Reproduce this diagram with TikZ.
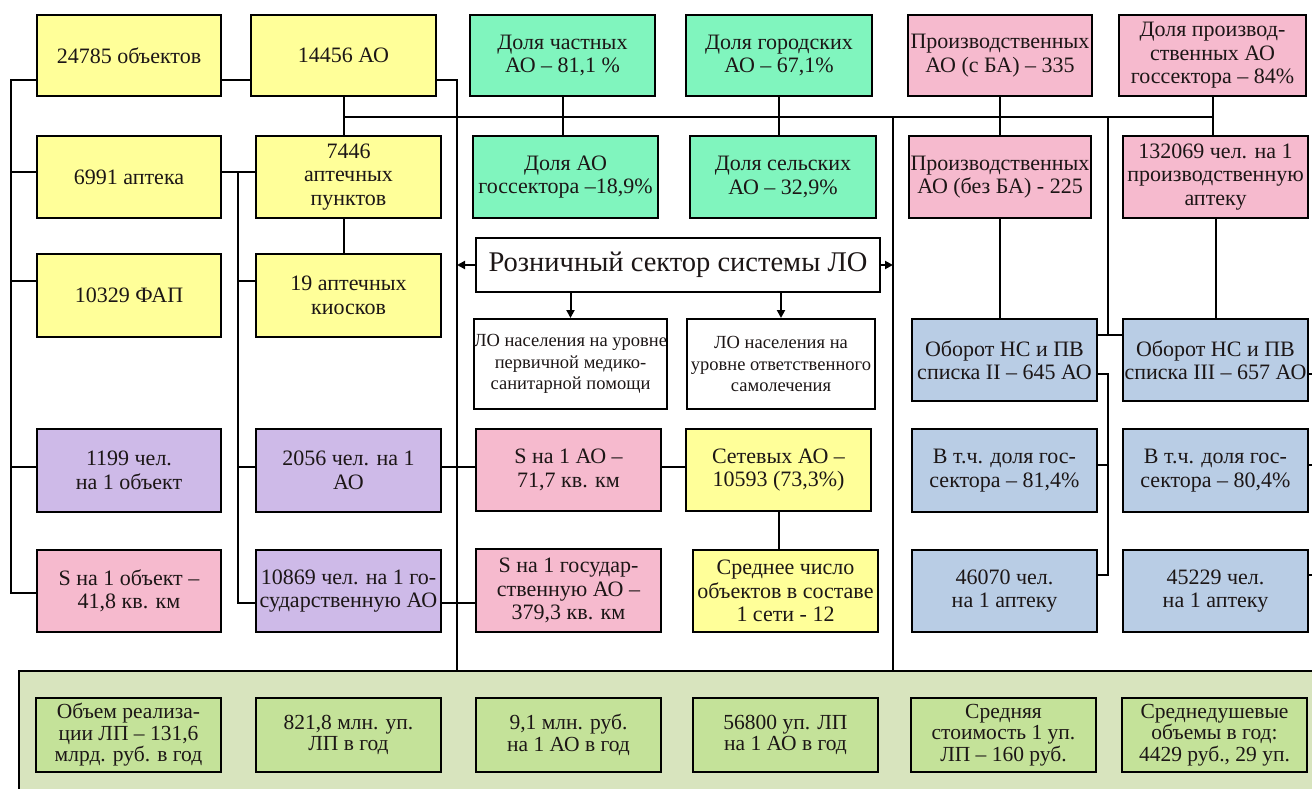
\documentclass[tikz,border=0pt]{standalone}
\usepackage{fontspec}
\setmainfont{Liberation Serif}
\usetikzlibrary{arrows.meta}

\definecolor{cyel}{RGB}{255,255,153}
\definecolor{cgrn}{RGB}{128,245,190}
\definecolor{cpnk}{RGB}{246,186,206}
\definecolor{cvio}{RGB}{206,186,232}
\definecolor{cblu}{RGB}{185,205,229}
\definecolor{cbot}{RGB}{196,226,153}
\definecolor{cpan}{RGB}{216,228,190}
\definecolor{cink}{RGB}{28,22,22}

\tikzset{
  box/.style={draw=black, line width=2.4pt, inner sep=0pt},
  txt/.style={align=center, inner sep=0pt, text=cink, font=\fontsize{22}{23.5}\selectfont},
  big/.style={font=\fontsize{28.5}{30}\selectfont},
  small/.style={font=\fontsize{18.5}{21.5}\selectfont},
  foot/.style={font=\fontsize{21.5}{21.5}\selectfont},
  wire/.style={line width=2pt, draw=black},
  arr/.style={wire, -{Triangle[length=8pt,width=8pt]}},
}

% \bx[text style]{name}{x1}{y1}{x2}{y2}{fill}{text}
\newcommand\bx[8][]{%
  \pgfmathsetmacro\bxw{#5-#3-2.4}\pgfmathsetmacro\bxh{#6-#4-2.4}%
  \pgfmathsetmacro\bxx{(#3+#5)/2}\pgfmathsetmacro\bxy{(#4+#6)/2}%
  \node[box,fill=#7,minimum width=\bxw pt,minimum height=\bxh pt] (#2) at (\bxx,\bxy) {};
  \node[txt,#1] at (#2.center) {#8};}

\begin{document}
\begin{tikzpicture}[x=1pt,y=-1pt]
\useasboundingbox (0,0) rectangle (1312,789);
\fill[white] (0,0) rectangle (1312,789);

% bottom panel
\node[draw=black, line width=2pt, fill=cpan, anchor=north west, inner sep=0pt,
      minimum width=1320pt, minimum height=140pt] (pan) at (18,670) {};

% row 1
\bx{a1}{36}{14}{222}{97}{cyel}{24785 объектов}
\bx{b1}{250}{14}{437}{97}{cyel}{14456 АО}
\bx{g1}{469}{14}{656}{97}{cgrn}{Доля частных\\АО – 81,1 \%}
\bx{g2}{685}{14}{873}{97}{cgrn}{Доля городских\\АО – 67,1\%}
\bx{p1}{907}{14}{1093}{97}{cpnk}{Производственных\\АО (с БА) – 335}
\bx{p2}{1118}{14}{1307}{97}{cpnk}{Доля производ-\\ственных АО\\госсектора – 84\%}
% row 2
\bx{a2}{36}{135}{222}{219}{cyel}{6991 аптека}
\bx{b2}{255}{135}{442}{219}{cyel}{7446\\аптечных\\пунктов}
\bx{g3}{472}{135}{659}{219}{cgrn}{Доля АО\\госсектора –18,9\%}
\bx{g4}{689}{135}{877}{219}{cgrn}{Доля сельских\\АО – 32,9\%}
\bx{p3}{908}{135}{1092}{219}{cpnk}{Производственных\\АО (без БА) - 225}
\bx{p4}{1122}{135}{1309}{219}{cpnk}{132069 чел. на 1\\производственную\\аптеку}
% centre
\bx[big]{R}{475}{237}{881}{293}{white}{Розничный сектор системы ЛО}
% row 3
\bx{a3}{36}{253}{222}{338}{cyel}{10329 ФАП}
\bx{b3}{255}{253}{442}{338}{cyel}{19 аптечных\\киосков}
\bx[small]{w1}{473}{318}{668}{410}{white}{ЛО населения на уровне\\первичной медико-\\санитарной помощи}
\bx[small]{w2}{686}{318}{876}{410}{white}{ЛО населения на\\уровне ответственного\\самолечения}
\bx{u1}{911}{318}{1098}{402}{cblu}{Оборот НС и ПВ\\списка II – 645 АО}
\bx{u2}{1122}{318}{1309}{402}{cblu}{Оборот НС и ПВ\\списка III – 657 АО}
% row 4
\bx{a4}{36}{428}{222}{513}{cvio}{1199 чел.\\на 1 объект}
\bx{b4}{255}{428}{442}{513}{cvio}{2056 чел. на 1\\АО}
\bx{s1}{475}{428}{662}{512}{cpnk}{S на 1 АО –\\71,7 кв. км}
\bx{y1}{685}{428}{872}{512}{cyel}{Сетевых АО –\\10593 (73,3\%)}
\bx{u3}{911}{428}{1098}{513}{cblu}{В т.ч. доля гос-\\сектора – 81,4\%}
\bx{u4}{1122}{428}{1309}{513}{cblu}{В т.ч. доля гос-\\сектора – 80,4\%}
% row 5
\bx{a5}{36}{549}{222}{633}{cpnk}{S на 1 объект –\\41,8 кв. км}
\bx{b5}{255}{549}{442}{633}{cvio}{10869 чел. на 1 го-\\сударственную АО}
\bx{s2}{475}{548}{662}{633}{cpnk}{S на 1 государ-\\ственную АО –\\379,3 кв. км}
\bx{y2}{692}{549}{879}{633}{cyel}{Среднее число\\объектов в составе\\1 сети - 12}
\bx{u5}{911}{549}{1098}{633}{cblu}{46070 чел.\\на 1 аптеку}
\bx{u6}{1122}{549}{1309}{633}{cblu}{45229 чел.\\на 1 аптеку}
% bottom row
\bx[foot]{k1}{35}{697}{222}{773}{cbot}{Объем реализа-\\ции ЛП – 131,6\\млрд. руб. в год}
\bx[foot]{k2}{255}{697}{442}{773}{cbot}{821,8 млн. уп.\\ЛП в год}
\bx[foot]{k3}{475}{697}{662}{773}{cbot}{9,1 млн. руб.\\на 1 АО в год}
\bx[foot]{k4}{692}{697}{879}{773}{cbot}{56800 уп. ЛП\\на 1 АО в год}
\bx[foot]{k5}{910}{697}{1097}{773}{cbot}{Средняя\\стоимость 1 уп.\\ЛП – 160 руб.}
\bx[foot]{k6}{1121}{697}{1308}{773}{cbot}{Среднедушевые\\объемы в год:\\4429 руб., 29 уп.}

% junction points
\coordinate (t1) at (11,80);  \coordinate (t2) at (11,172);
\coordinate (t3) at (11,281); \coordinate (t4) at (11,467);
\coordinate (t5) at (11,593);
\coordinate (q2) at (238,172); \coordinate (q3) at (238,281);
\coordinate (q4) at (238,467); \coordinate (q5) at (238,603);
\coordinate (v1) at (457,80);  \coordinate (v2) at (893,117);
\coordinate (h1) at (0,117);
\coordinate (m1) at (1108,117); \coordinate (m2) at (1108,335);
\coordinate (m3) at (1108,374); \coordinate (m4) at (1108,465);
\coordinate (m5) at (1108,575);
\coordinate (e3) at (1312,374); \coordinate (e4) at (1312,465);
\coordinate (e5) at (1312,575);

% left trunk
\draw[wire] (a1.west |- t1) -- (t1) -- (t5) -- (a5.west |- t5);
\draw[wire] (t2) -- (a2.west |- t2);
\draw[wire] (t3) -- (a3.west |- t3);
\draw[wire] (t4) -- (a4.west |- t4);
\draw[wire] (a1.east |- t1) -- (b1.west |- t1);

% second trunk
\draw[wire] (a2.east |- q2) -- (b2.west |- q2);
\draw[wire] (q2) -- (q5) -- (b5.west |- q5);
\draw[wire] (q3) -- (b3.west |- q3);
\draw[wire] (q4) -- (b4.west |- q4);
\draw[wire] (b4.east |- q4) -- (s1.west |- q4);
\draw[wire] (s1.east |- q4) -- (y1.west |- q4);
\draw[wire] (b5.east |- q5) -- (s2.west |- q5);
\draw[wire] (y1.south) -- (y1.south |- y2.north);

% column links
\draw[wire] (b1.south) -- (b1.south |- b2.north);
\draw[wire] (b1.south |- b2.south) -- (b1.south |- b3.north);
\draw[wire] (b1.south |- h1) -- (p2.south |- h1);
\draw[wire] (g1.south) -- (g1.south |- g3.north);
\draw[wire] (g2.south) -- (g2.south |- g4.north);
\draw[wire] (p1.south) -- (p1.south |- p3.north);
\draw[wire] (p2.south) -- (p2.south |- p4.north);
\draw[wire] (p3.south) -- (p3.south |- u1.north);
\draw[wire] (p4.south) -- (p4.south |- u2.north);

% long verticals to the panel
\draw[wire] (b1.east |- v1) -- (v1) -- (v1 |- pan.north);
\draw[wire] (v2) -- (v2 |- pan.north);

% right block
\draw[wire] (m1) -- (m2);
\draw[wire] (u1.east |- m2) -- (u2.west |- m2);
\draw[wire] (u1.east |- m3) -- (m3) -- (m5) -- (u5.east |- m5);
\draw[wire] (u3.east |- m4) -- (m4);
\draw[wire] (u2.east |- e3) -- (e3);
\draw[wire] (u4.east |- e4) -- (e4);
\draw[wire] (u6.east |- e5) -- (e5);

% arrows from the centre box
\draw[arr] (R.west) -- (R.west -| v1);
\draw[arr] (R.east) -- (R.east -| v2);
\draw[arr] (w1.north |- R.south) -- (w1.north);
\draw[arr] (w2.north |- R.south) -- (w2.north);
\end{tikzpicture}
\end{document}
